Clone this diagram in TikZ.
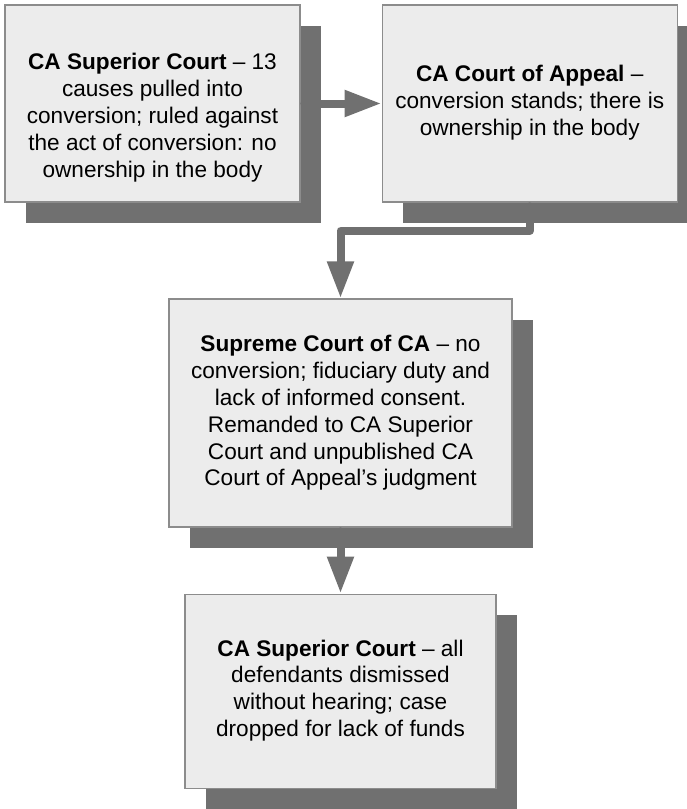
\documentclass[tikz,border=0pt]{standalone}
\usepackage{fontspec}
\setmainfont{Liberation Sans}
\usepackage{tikz}
\usetikzlibrary{arrows.meta, positioning, shadows}
\definecolor{boxfill}{RGB}{236,236,236}
\definecolor{boxline}{RGB}{140,140,140}
\definecolor{shade}{RGB}{112,112,112}
\tikzstyle{court} = [rectangle, draw=boxline, line width=1.2pt, fill=boxfill, drop shadow={shadow xshift=20.5pt, shadow yshift=-20.5pt, fill=shade, opacity=1}]
\tikzstyle{ruling} = [inner sep=0pt, align=center, font=\fontsize{22.6}{26.8}\selectfont]
\tikzstyle{arrow} = [line width=8pt, draw=shade, line join=round, {Circle[length=11pt]}-{Triangle[length=37pt, width=25pt]}]
\begin{document}
\begin{tikzpicture}[x=1pt, y=-1pt]
    \useasboundingbox (0,0) rectangle (687,809);

    % CA Superior Court
    \node (sup1) [court, minimum width=295pt, minimum height=197pt] at (152.5,103.5) {};
    \node (sup1txt) [ruling, below=49pt of sup1.north] {\textbf{CA Superior Court} – 13\\causes pulled into\\conversion; ruled against\\the act of conversion: no\\ownership in the body};

    % CA Court of Appeal
    \node (appeal) [court, minimum width=295pt, minimum height=197pt, right=81pt of sup1] {};
    \node (appealtxt) [ruling, below=61pt of appeal.north] {\textbf{CA Court of Appeal} –\\conversion stands; there is\\ownership in the body};

    % Supreme Court of CA
    \node (supreme) [court, minimum width=343pt, minimum height=228pt] at (340.5,413) {};
    \node (supremetxt) [ruling, below=37pt of supreme.north] {\textbf{Supreme Court of CA} – no\\conversion; fiduciary duty and\\lack of informed consent.\\Remanded to CA Superior\\Court and unpublished CA\\Court of Appeal’s judgment};

    % CA Superior Court again
    \node (sup2) [court, minimum width=311pt, minimum height=194pt, below=66pt of supreme] {};
    \node (sup2txt) [ruling, below=46pt of sup2.north] {\textbf{CA Superior Court} – all\\defendants dismissed\\without hearing; case\\dropped for lack of funds};

    % Arrows
    \draw [arrow] (sup1.east) -- (appeal.west);
    \draw [arrow] (appeal.south) -- ++(0,28) -| (supreme.north);
    \draw [arrow] (supreme.south) -- (sup2.north);
\end{tikzpicture}
\end{document}
